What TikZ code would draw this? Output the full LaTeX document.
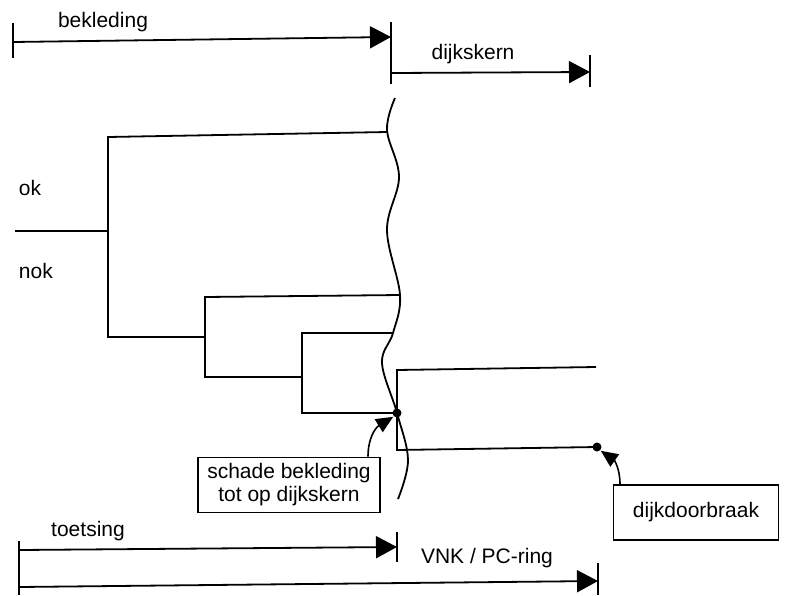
\documentclass[tikz,border=0pt]{standalone}
\usepackage{fontspec}
\setmainfont{Liberation Sans}
\usetikzlibrary{arrows.meta}
\begin{document}
\begin{tikzpicture}[x=1pt,y=-1pt,line width=1.8pt,
  lbl/.style={inner sep=0pt,font=\fontsize{21}{23}\selectfont},
  boxed/.style={draw,line width=1.8pt,inner sep=0pt,font=\fontsize{21}{23}\selectfont,align=center},
  span/.style={-{Triangle[length=21pt,width=22pt]}},
  pointer/.style={-{Triangle[length=17pt,width=15pt]},line width=1.6pt},
  dotn/.style={circle,fill,inner sep=0pt,minimum size=9pt}]
\useasboundingbox (0,0) rectangle (787,595);
% ---- top spans
\coordinate (bL1) at (13,23); \coordinate (bL2) at (13,58);
\coordinate (bS) at (13,42); \coordinate (bE) at (391,37);
\coordinate (mT) at (391,22); \coordinate (mB) at (391,84);
\coordinate (dS) at (391,73); \coordinate (dE) at (590,72);
\coordinate (dT1) at (590,55); \coordinate (dT2) at (590,87);
\draw (bL1) -- (bL2);
\draw (mT) -- (mB);
\draw (dT1) -- (dT2);
\draw[span] (bS) -- (bE);
\draw[span] (dS) -- (dE);
\node[lbl] (tbek) at (103,22) {bekleding};
\node[lbl] (tdijk) at (473,54) {dijkskern};
% ---- wavy boundary
\draw plot[smooth,tension=0.6] coordinates {(395,98) (387,130) (399,177) (387,230) (400,295) (393,333) (382,363) (397,413) (408,460) (398,499)};
% ---- tree
\coordinate (r0) at (15,231); \coordinate (r1) at (108,231);
\coordinate (a1) at (108,137); \coordinate (a2) at (108,337);
\coordinate (w1) at (387,132);
\coordinate (b0) at (205,337); \coordinate (b1) at (205,297); \coordinate (b2) at (205,377);
\coordinate (w2) at (400,295);
\coordinate (c0) at (302,377); \coordinate (c1) at (302,333); \coordinate (c2) at (302,413);
\coordinate (w3) at (393,333);
\node[dotn] (d1) at (397,413) {};
\coordinate (e1) at (397,370); \coordinate (e2) at (397,450);
\coordinate (f1) at (596,367);
\node[dotn] (d2) at (597,447) {};
\draw (r0) -- (r1);
\draw (w1) -- (a1) -- (a2) -- (b0);
\draw (w2) -- (b1) -- (b2) -- (c0);
\draw (w3) -- (c1) -- (c2) -- (d1.center);
\draw (f1) -- (e1) -- (e2) -- (d2.center);
\node[lbl,anchor=west] (tok) at (18,188) {ok};
\node[lbl,anchor=west] (tnok) at (18,271) {nok};
% ---- boxes
\node[boxed,minimum width=182pt,minimum height=55pt] (schade) at (289,485) {schade bekleding\\tot op dijkskern};
\node[boxed,minimum width=165pt,minimum height=55pt] (doorbraak) at (696,512.5) {dijkdoorbraak};
\draw[pointer] ([xshift=79pt]schade.north) .. controls +(0,-18) and (375,428) .. (d1.south west);
\draw[pointer] ([xshift=-76pt]doorbraak.north) .. controls +(0,-16) and (614,460) .. (d2.south east);
% ---- bottom spans
\coordinate (tT1) at (19,541); \coordinate (tT2) at (19,595);
\coordinate (tS) at (19,550); \coordinate (tE) at (397,547);
\coordinate (tK1) at (397,532); \coordinate (tK2) at (397,562);
\coordinate (vS) at (19,587); \coordinate (vE) at (598,581);
\coordinate (vK1) at (598,563); \coordinate (vK2) at (598,595);
\draw (tT1) -- (tT2);
\draw (tK1) -- (tK2);
\draw (vK1) -- (vK2);
\draw[span] (tS) -- (tE);
\draw[span] (vS) -- (vE);
\node[lbl] (ttoets) at (88,531) {toetsing};
\node[lbl] (tvnk) at (487,558) {VNK / PC-ring};
\end{tikzpicture}
\end{document}
